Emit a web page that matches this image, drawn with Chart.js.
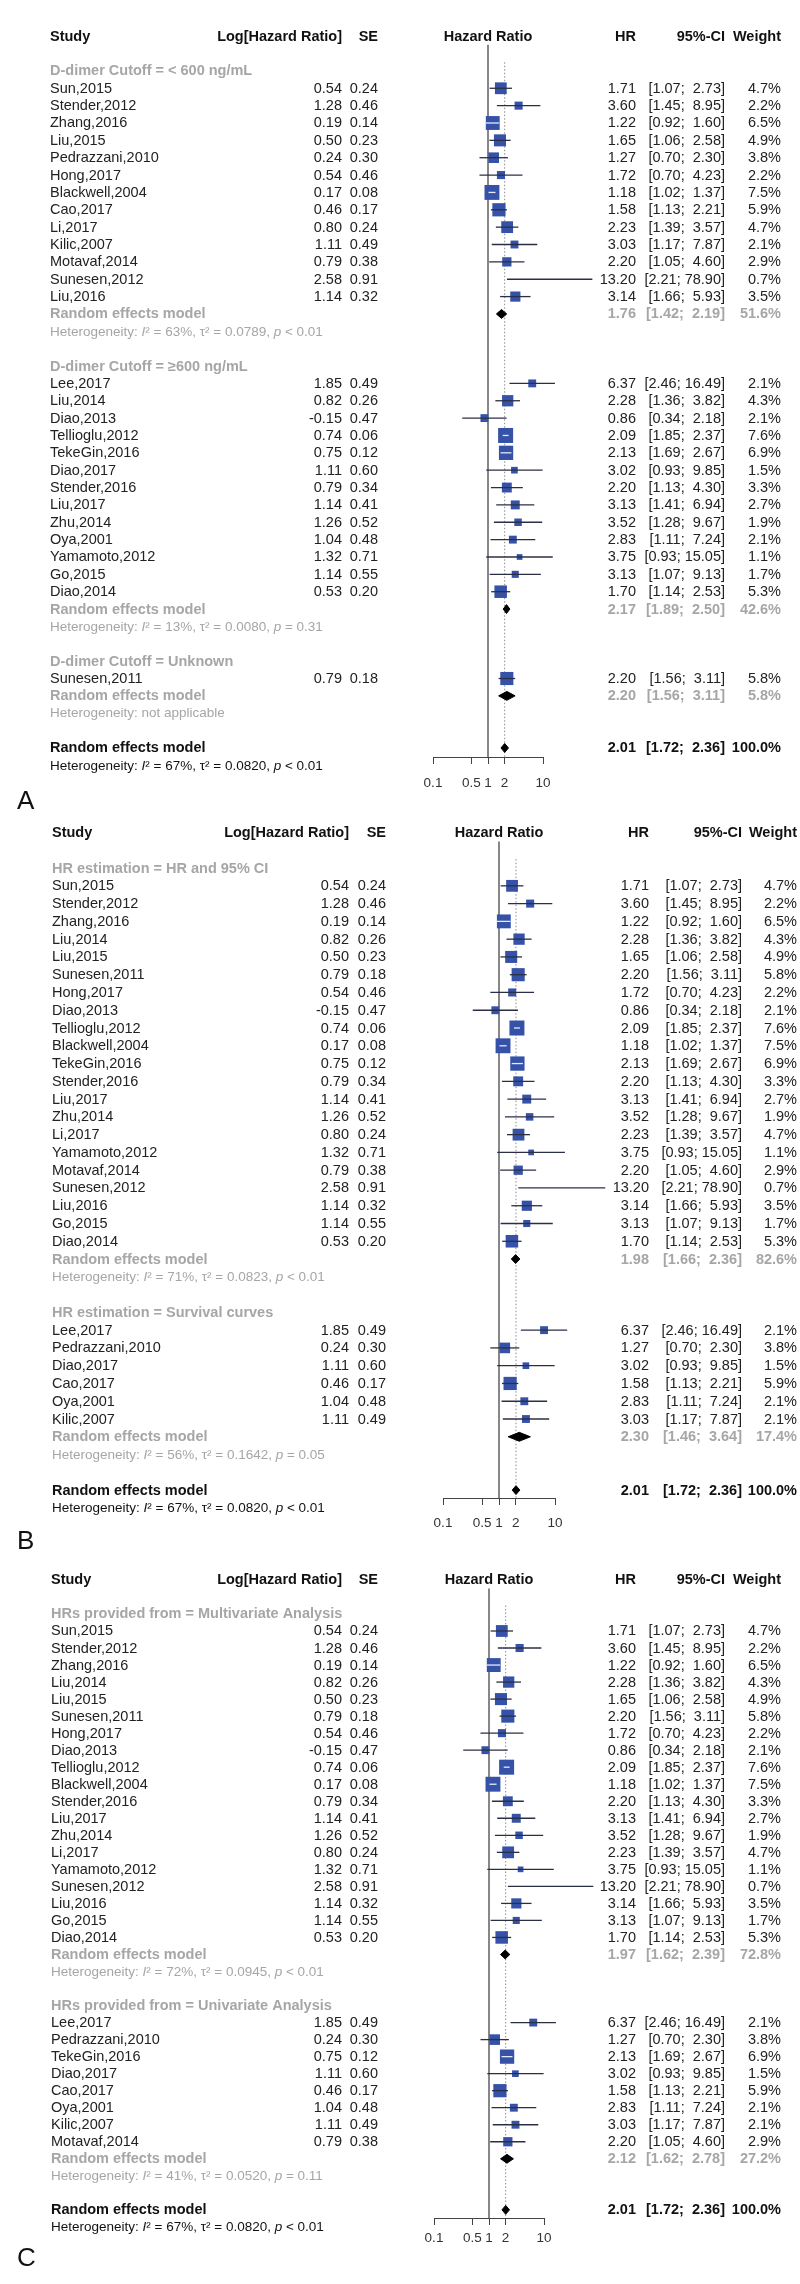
<!DOCTYPE html>
<html>
<head>
<meta charset="utf-8">
<script src="https://cdn.jsdelivr.net/npm/chart.js"></script>
<style>
  html, body { margin: 0; padding: 0; background: #fff; }
  #wrap { position: relative; width: 800px; height: 2284px; }
  canvas { position: absolute; left: 0; }
</style>
</head>
<body>
<div id="wrap">
  <canvas id="panelA" width="800" height="815" style="top:0px"></canvas>
  <canvas id="panelB" width="800" height="740" style="top:815px"></canvas>
  <canvas id="panelC" width="800" height="729" style="top:1555px"></canvas>
</div>
<script>
// Study level values (same for every panel)
const studyNames = ['Sun,2015','Stender,2012','Zhang,2016','Liu,2015','Pedrazzani,2010','Hong,2017','Blackwell,2004','Cao,2017','Li,2017','Kilic,2007','Motavaf,2014','Sunesen,2012','Liu,2016','Lee,2017','Liu,2014','Diao,2013','Tellioglu,2012','TekeGin,2016','Diao,2017','Stender,2016','Liu,2017','Zhu,2014','Oya,2001','Yamamoto,2012','Go,2015','Diao,2014','Sunesen,2011'];
const logHR = [0.54,1.28,0.19,0.50,0.24,0.54,0.17,0.46,0.80,1.11,0.79,2.58,1.14,1.85,0.82,-0.15,0.74,0.75,1.11,0.79,1.14,1.26,1.04,1.32,1.14,0.53,0.79];
const seLogHR = [0.24,0.46,0.14,0.23,0.30,0.46,0.08,0.17,0.24,0.49,0.38,0.91,0.32,0.49,0.26,0.47,0.06,0.12,0.60,0.34,0.41,0.52,0.48,0.71,0.55,0.20,0.18];
const hrValues = [1.71,3.60,1.22,1.65,1.27,1.72,1.18,1.58,2.23,3.03,2.20,13.20,3.14,6.37,2.28,0.86,2.09,2.13,3.02,2.20,3.13,3.52,2.83,3.75,3.13,1.70,2.20];
const ciLower = [1.07,1.45,0.92,1.06,0.70,0.70,1.02,1.13,1.39,1.17,1.05,2.21,1.66,2.46,1.36,0.34,1.85,1.69,0.93,1.13,1.41,1.28,1.11,0.93,1.07,1.14,1.56];
const ciUpper = [2.73,8.95,1.60,2.58,2.30,4.23,1.37,2.21,3.57,7.87,4.60,78.90,5.93,16.49,3.82,2.18,2.37,2.67,9.85,4.30,6.94,9.67,7.24,15.05,9.13,2.53,3.11];
const weightPct = [4.7,2.2,6.5,4.9,3.8,2.2,7.5,5.9,4.7,2.1,2.9,0.7,3.5,2.1,4.3,2.1,7.6,6.9,1.5,3.3,2.7,1.9,2.1,1.1,1.7,5.3,5.8];

// Overall random effects model
const overallHR = 2.01, overallLo = 1.72, overallHi = 2.36, overallW = 100.0;
const overallHet = ['67%', '0.0820', '< 0.01'];

// x axis ticks
const axisTicks = [0.1, 0.5, 1, 2, 10];

// Panel A: D-dimer cutoff
const groupLabelsA = ['D-dimer Cutoff = < 600 ng/mL', 'D-dimer Cutoff = \u2265600 ng/mL', 'D-dimer Cutoff = Unknown'];
const membersA = [
  ['Sun,2015','Stender,2012','Zhang,2016','Liu,2015','Pedrazzani,2010','Hong,2017','Blackwell,2004','Cao,2017','Li,2017','Kilic,2007','Motavaf,2014','Sunesen,2012','Liu,2016'],
  ['Lee,2017','Liu,2014','Diao,2013','Tellioglu,2012','TekeGin,2016','Diao,2017','Stender,2016','Liu,2017','Zhu,2014','Oya,2001','Yamamoto,2012','Go,2015','Diao,2014'],
  ['Sunesen,2011']
];
const pooledHRA = [1.76, 2.17, 2.20];
const pooledLoA = [1.42, 1.89, 1.56];
const pooledHiA = [2.19, 2.50, 3.11];
const pooledWA = [51.6, 42.6, 5.8];
const hetA = [['63%','0.0789','< 0.01'], ['13%','0.0080','= 0.31'], null];

// Panel B: HR estimation
const groupLabelsB = ['HR estimation = HR and 95% CI', 'HR estimation = Survival curves'];
const membersB = [
  ['Sun,2015','Stender,2012','Zhang,2016','Liu,2014','Liu,2015','Sunesen,2011','Hong,2017','Diao,2013','Tellioglu,2012','Blackwell,2004','TekeGin,2016','Stender,2016','Liu,2017','Zhu,2014','Li,2017','Yamamoto,2012','Motavaf,2014','Sunesen,2012','Liu,2016','Go,2015','Diao,2014'],
  ['Lee,2017','Pedrazzani,2010','Diao,2017','Cao,2017','Oya,2001','Kilic,2007']
];
const pooledHRB = [1.98, 2.30];
const pooledLoB = [1.66, 1.46];
const pooledHiB = [2.36, 3.64];
const pooledWB = [82.6, 17.4];
const hetB = [['71%','0.0823','< 0.01'], ['56%','0.1642','= 0.05']];

// Panel C: source of HRs
const groupLabelsC = ['HRs provided from = Multivariate Analysis', 'HRs provided from = Univariate Analysis'];
const membersC = [
  ['Sun,2015','Stender,2012','Zhang,2016','Liu,2014','Liu,2015','Sunesen,2011','Hong,2017','Diao,2013','Tellioglu,2012','Blackwell,2004','Stender,2016','Liu,2017','Zhu,2014','Li,2017','Yamamoto,2012','Sunesen,2012','Liu,2016','Go,2015','Diao,2014'],
  ['Lee,2017','Pedrazzani,2010','TekeGin,2016','Diao,2017','Cao,2017','Oya,2001','Kilic,2007','Motavaf,2014']
];
const pooledHRC = [1.97, 2.12];
const pooledLoC = [1.62, 1.62];
const pooledHiC = [2.39, 2.78];
const pooledWC = [72.8, 27.2];
const hetC = [['72%','0.0945','< 0.01'], ['41%','0.0520','= 0.11']];

// layout of each panel (page pixels)
const panels = [
  { id: 'panelA', letter: 'A', top: 0, height: 815, rowY0: 63, rowStep: 17.56, axisY: 757,
    xLeft: 433, xRight: 543, tickPad: 11, letterY: 802,
    cols: { study: 50, logHR: 342, se: 378, hr: 636, ci: 725, w: 781 },
    labels: groupLabelsA, members: membersA, pHR: pooledHRA, pLo: pooledLoA, pHi: pooledHiA, pW: pooledWA, het: hetA },
  { id: 'panelB', letter: 'B', top: 815, height: 740, rowY0: 860, rowStep: 18, axisY: 1498,
    xLeft: 443, xRight: 555, tickPad: 10, letterY: 1542,
    cols: { study: 52, logHR: 349, se: 386, hr: 649, ci: 742, w: 797 },
    labels: groupLabelsB, members: membersB, pHR: pooledHRB, pLo: pooledLoB, pHi: pooledHiB, pW: pooledWB, het: hetB },
  { id: 'panelC', letter: 'C', top: 1555, height: 729, rowY0: 1606, rowStep: 17.25, axisY: 2218,
    xLeft: 434, xRight: 544, tickPad: 5, letterY: 2259,
    cols: { study: 51, logHR: 342, se: 378, hr: 636, ci: 725, w: 781 },
    labels: groupLabelsC, members: membersC, pHR: pooledHRC, pLo: pooledLoC, pHi: pooledHiC, pW: pooledWC, het: hetC }
];

const FONT = '"Liberation Sans", Arial, sans-serif';
const GREY = '#a6a6a6';
const INK = '#222';
const BOX_MAX = 15;
const maxWeight = Math.max(...weightPct);

Chart.defaults.font.family = FONT;

const boxSide = w => BOX_MAX * Math.sqrt(w / maxWeight);

function layoutRows(p) {
  const rows = [{ kind: 'header', idx: -2 }];
  let i = 0;
  p.labels.forEach((lab, g) => {
    rows.push({ kind: 'group', idx: i++, text: lab });
    p.members[g].forEach(name => rows.push({ kind: 'study', idx: i++, s: studyNames.indexOf(name) }));
    rows.push({ kind: 'pooled', idx: i++, g });
    rows.push({ kind: 'het', idx: i++, g });
    i++;
  });
  rows.push({ kind: 'overall', idx: i++ });
  rows.push({ kind: 'overallHet', idx: i++ });
  return rows;
}

function diamond(est, lo, hi, y, dh) {
  return [{ x: lo, y: y }, { x: est, y: y - dh }, { x: hi, y: y }, { x: est, y: y + dh }, { x: lo, y: y }];
}

function ciText(lo, hi) {
  return '[' + lo.toFixed(2) + ';' + (hi >= 10 ? ' ' : '  ') + hi.toFixed(2) + ']';
}

function drawHet(ctx, x, y, h, color) {
  const parts = h
    ? [['Heterogeneity: ', ''], ['I', 'italic '], ['\u00b2', ''], [' = ' + h[0] + ', ', ''], ['\u03c4\u00b2', ''],
       [' = ' + h[1] + ', ', ''], ['p', 'italic '], [' ' + h[2], '']]
    : [['Heterogeneity: not applicable', '']];
  ctx.fillStyle = color;
  ctx.textAlign = 'left';
  parts.forEach(([t, st]) => {
    ctx.font = st + '13.5px ' + FONT;
    ctx.fillText(t, x, y);
    x += ctx.measureText(t).width;
  });
}

function drawColumns(chart, p, rows) {
  const ctx = chart.ctx;
  const ys = chart.scales.y;
  const xs = chart.scales.x;
  const c = p.cols;
  const put = (t, x, y, align, weight, color, size) => {
    ctx.font = weight + ' ' + (size || 14.5) + 'px ' + FONT;
    ctx.fillStyle = color;
    ctx.textAlign = align;
    ctx.fillText(t, x, y);
  };
  ctx.save();
  ctx.textBaseline = 'middle';
  rows.forEach(r => {
    const y = ys.getPixelForValue(r.idx) + 0.5;
    if (r.kind === 'header') {
      put('Study', c.study, y, 'left', 'bold', '#111');
      put('Log[Hazard Ratio]', c.logHR, y, 'right', 'bold', '#111');
      put('SE', c.se, y, 'right', 'bold', '#111');
      put('Hazard Ratio', xs.getPixelForValue(1), y, 'center', 'bold', '#111');
      put('HR', c.hr, y, 'right', 'bold', '#111');
      put('95%-CI', c.ci, y, 'right', 'bold', '#111');
      put('Weight', c.w, y, 'right', 'bold', '#111');
    } else if (r.kind === 'group') {
      put(r.text, c.study, y, 'left', 'bold', GREY);
    } else if (r.kind === 'study') {
      const s = r.s;
      put(studyNames[s], c.study, y, 'left', 'normal', INK);
      put(logHR[s].toFixed(2), c.logHR, y, 'right', 'normal', INK);
      put(seLogHR[s].toFixed(2), c.se, y, 'right', 'normal', INK);
      put(hrValues[s].toFixed(2), c.hr, y, 'right', 'normal', INK);
      put(ciText(ciLower[s], ciUpper[s]), c.ci, y, 'right', 'normal', INK);
      put(weightPct[s].toFixed(1) + '%', c.w, y, 'right', 'normal', INK);
    } else if (r.kind === 'pooled') {
      put('Random effects model', c.study, y, 'left', 'bold', GREY);
      put(p.pHR[r.g].toFixed(2), c.hr, y, 'right', 'bold', GREY);
      put(ciText(p.pLo[r.g], p.pHi[r.g]), c.ci, y, 'right', 'bold', GREY);
      put(p.pW[r.g].toFixed(1) + '%', c.w, y, 'right', 'bold', GREY);
    } else if (r.kind === 'het') {
      drawHet(ctx, c.study, y, p.het[r.g], GREY);
    } else if (r.kind === 'overall') {
      put('Random effects model', c.study, y, 'left', 'bold', '#111');
      put(overallHR.toFixed(2), c.hr, y, 'right', 'bold', '#111');
      put(ciText(overallLo, overallHi), c.ci, y, 'right', 'bold', '#111');
      put(overallW.toFixed(1) + '%', c.w, y, 'right', 'bold', '#111');
    } else if (r.kind === 'overallHet') {
      drawHet(ctx, c.study, y, overallHet, '#111');
    }
  });
  put(p.letter, 17, p.letterY - p.top, 'left', 'normal', '#111', 26);
  ctx.restore();
}

function drawPanel(p) {
  const rows = layoutRows(p);
  const yTop = (p.top + 2 - p.rowY0) / p.rowStep;
  const yBot = (p.axisY - p.rowY0) / p.rowStep;
  const dh = 4.5 / p.rowStep;
  const studyRows = rows.filter(r => r.kind === 'study');

  const ciData = [];
  studyRows.forEach(r => {
    ciData.push({ x: ciLower[r.s], y: r.idx }, { x: ciUpper[r.s], y: r.idx }, { x: null, y: null });
  });
  const boxes = studyRows.map(r => ({ x: hrValues[r.s], y: r.idx, w: weightPct[r.s] }));

  const diamonds = rows.filter(r => r.kind === 'pooled')
    .map(r => diamond(p.pHR[r.g], p.pLo[r.g], p.pHi[r.g], r.idx, dh));
  const overallRow = rows.find(r => r.kind === 'overall');
  diamonds.push(diamond(overallHR, overallLo, overallHi, overallRow.idx, dh));

  // lower "order" is drawn on top
  const datasets = [
    { type: 'line', order: 5, data: [{ x: 1, y: -1.5 }, { x: 1, y: yBot }], borderColor: '#555', borderWidth: 1.4, pointRadius: 0 },
    { type: 'line', order: 4, data: [{ x: overallHR, y: -0.5 }, { x: overallHR, y: yBot }], borderColor: '#8c8c8c', borderWidth: 1, borderDash: [1.5, 2], pointRadius: 0 },
    { type: 'line', order: 0, data: ciData, borderWidth: 1.3, pointRadius: 0, spanGaps: false, borderColor: '#2b2f44',
      segment: {
        // CI drawn white when it lies inside its box
        borderColor: sc => {
          const w = boxes[Math.floor(sc.p0DataIndex / 3)].w;
          return (sc.p1.x - sc.p0.x) < boxSide(w) ? '#e6eaf6' : '#2b2f44';
        }
      } },
    { type: 'scatter', order: 1, data: boxes, pointStyle: 'rect', pointBackgroundColor: '#3552a8', pointBorderWidth: 0,
      pointRadius: ctx => boxSide(ctx.raw.w) / Math.SQRT2 }
  ];
  diamonds.forEach(d => datasets.push({
    type: 'line', order: 2, data: d, fill: 'shape', backgroundColor: '#000', borderColor: '#000', borderWidth: 1, pointRadius: 0, tension: 0
  }));
  datasets.forEach(d => { d.clip = false; });

  new Chart(document.getElementById(p.id), {
    type: 'scatter',
    data: { datasets },
    options: {
      responsive: false,
      animation: false,
      devicePixelRatio: 1,
      events: [],
      layout: { padding: { left: p.xLeft, right: 800 - p.xRight, top: 2, bottom: p.height - (p.axisY - p.top) - 40 } },
      plugins: { legend: { display: false }, tooltip: { enabled: false } },
      scales: {
        x: {
          type: 'logarithmic', min: 0.1, max: 10,
          afterBuildTicks: s => { s.ticks = axisTicks.map(v => ({ value: v })); },
          afterFit: s => { s.height = 40; },
          ticks: { autoSkip: false, maxRotation: 0, padding: p.tickPad, color: '#333', font: { size: 13.5 },
                   callback: v => String(v) },
          grid: { drawOnChartArea: false, drawTicks: true, tickLength: 7, color: '#444', lineWidth: 1 },
          border: { display: true, color: '#444', width: 1 }
        },
        y: { type: 'linear', display: false, reverse: true, min: yTop, max: yBot }
      }
    },
    plugins: [{ id: 'forestColumns', afterDraw: chart => drawColumns(chart, p, rows) }]
  });
}

panels.forEach(drawPanel);
</script>
</body>
</html>
